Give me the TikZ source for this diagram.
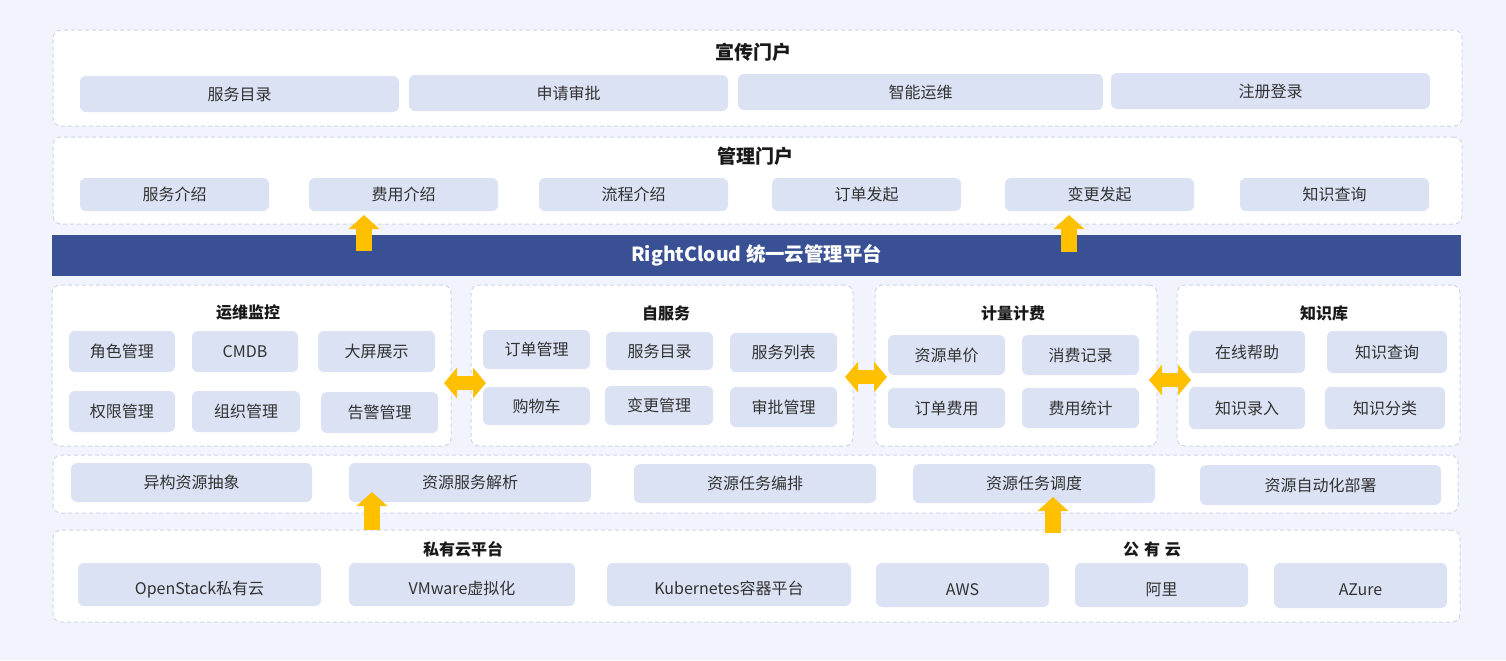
\documentclass[tikz,border=0pt]{standalone}
\usepackage{fontspec}
\setmainfont{Noto Sans CJK SC}
\usetikzlibrary{arrows.meta}
\definecolor{bg}{RGB}{241,244,252}
\definecolor{itemfill}{RGB}{219,226,243}
\definecolor{panelborder}{RGB}{205,213,232}
\definecolor{barblue}{RGB}{57,81,148}
\definecolor{txt}{RGB}{50,50,50}
\definecolor{arrowyellow}{RGB}{255,192,0}
\newcommand{\mkbox}[7]{\node[#1, minimum width={(#5-#3)*0.5pt}, minimum height={(#6-#4)*0.5pt}] (#2) at ({(#3+#5)/2},{(#4+#6)/2}) {#7};}
\begin{document}
\begin{tikzpicture}[x=0.5pt,y=-0.5pt,
  panel/.style={draw=panelborder, dashed, dash pattern=on 2pt off 1.5pt, fill=white, rounded corners=4pt, line width=0.5pt, inner sep=0pt},
  item/.style={fill=itemfill, rounded corners=3pt, text=txt, font=\fontsize{8}{9.5}\selectfont, inner sep=0pt},
  lowitem/.style={item, text height=11.5pt, text depth=1.5pt},
  ptitle/.style={font=\bfseries\fontsize{8}{10}\selectfont, text=black!90, inner sep=0pt},
  btitle/.style={font=\bfseries\fontsize{9.5}{11}\selectfont, text=black!90, inner sep=0pt},
  bar/.style={fill=barblue, text=white, font=\bfseries\fontsize{9.7}{11}\selectfont, inner sep=0pt},
  uparrow/.style={draw=arrowyellow, line width=8pt, -{Triangle[width=15pt,length=7pt]}},
  dblarrow/.style={draw=arrowyellow, line width=7pt, {Triangle[width=15pt,length=6.5pt]}-{Triangle[width=15pt,length=6.5pt]}}
]
\useasboundingbox (0,0) rectangle (1506,660);
\fill[bg] (0,0) rectangle (1506,660);

% Panel 1
\mkbox{panel}{p1}{53}{30}{1462}{126}{}
\node[btitle] (t1) at (753,52) {宣传门户};
\mkbox{item}{p1a}{80}{76}{399}{112}{服务目录}
\mkbox{item}{p1b}{409}{75}{728}{111}{申请审批}
\mkbox{item}{p1c}{738}{74}{1103}{110}{智能运维}
\mkbox{item}{p1d}{1111}{73}{1430}{109}{注册登录}

% Panel 2
\mkbox{panel}{p2}{53}{137}{1462}{224}{}
\node[btitle] (t2) at (755,156) {管理门户};
\mkbox{item}{p2a}{80}{178}{269}{211}{服务介绍}
\mkbox{item}{p2b}{309}{178}{498}{211}{费用介绍}
\mkbox{item}{p2c}{539}{178}{728}{211}{流程介绍}
\mkbox{item}{p2d}{772}{178}{961}{211}{订单发起}
\mkbox{item}{p2e}{1005}{178}{1194}{211}{变更发起}
\mkbox{item}{p2f}{1240}{178}{1429}{211}{知识查询}

% Bar
\mkbox{bar}{bar}{52}{235}{1461}{276}{RightCloud 统一云管理平台}

% Row of four panels
\mkbox{panel}{q1}{52}{285}{451}{446}{}
\node[ptitle] (tq1) at (248,312) {运维监控};
\mkbox{item}{q1a}{69}{331}{175}{372}{角色管理}
\mkbox{item}{q1b}{192}{331}{298}{372}{CMDB}
\mkbox{item}{q1c}{318}{331}{435}{372}{大屏展示}
\mkbox{item}{q1d}{69}{391}{175}{432}{权限管理}
\mkbox{item}{q1e}{192}{391}{300}{432}{组织管理}
\mkbox{item}{q1f}{321}{392}{438}{433}{告警管理}

\mkbox{panel}{q2}{471}{285}{853}{446}{}
\node[ptitle] (tq2) at (666,313) {自服务};
\mkbox{item}{q2a}{483}{330}{590}{369}{订单管理}
\mkbox{item}{q2b}{606}{332}{713}{370}{服务目录}
\mkbox{item}{q2c}{730}{333}{837}{372}{服务列表}
\mkbox{item}{q2d}{483}{387}{590}{425}{购物车}
\mkbox{item}{q2e}{605}{386}{713}{425}{变更管理}
\mkbox{item}{q2f}{730}{387}{837}{427}{审批管理}

\mkbox{panel}{q3}{875}{285}{1157}{446}{}
\node[ptitle] (tq3) at (1013,313) {计量计费};
\mkbox{item}{q3a}{888}{335}{1005}{375}{资源单价}
\mkbox{item}{q3b}{1022}{335}{1139}{375}{消费记录}
\mkbox{item}{q3c}{888}{388}{1005}{428}{订单费用}
\mkbox{item}{q3d}{1022}{388}{1139}{428}{费用统计}

\mkbox{panel}{q4}{1177}{285}{1460}{446}{}
\node[ptitle] (tq4) at (1324,313) {知识库};
\mkbox{item}{q4a}{1189}{331}{1305}{373}{在线帮助}
\mkbox{item}{q4b}{1327}{331}{1447}{373}{知识查询}
\mkbox{item}{q4c}{1189}{387}{1305}{429}{知识录入}
\mkbox{item}{q4d}{1325}{387}{1445}{429}{知识分类}

% Middle panel
\mkbox{panel}{p5}{53}{455}{1458}{513}{}
\mkbox{item}{p5a}{71}{463}{312}{502}{异构资源抽象}
\mkbox{item}{p5b}{349}{463}{591}{502}{资源服务解析}
\mkbox{item}{p5c}{634}{464}{876}{503}{资源任务编排}
\mkbox{item}{p5d}{913}{464}{1155}{503}{资源任务调度}
\mkbox{item}{p5e}{1200}{465}{1441}{505}{资源自动化部署}

% Bottom panel
\mkbox{panel}{p6}{53}{530}{1460}{622}{}
\node[ptitle] (t6a) at (463,549) {私有云平台};
\node[ptitle] (t6b) at (1152,549) {公\hspace{0.3em}有\hspace{0.3em}云};
\mkbox{lowitem}{p6a}{78}{563}{321}{606}{OpenStack私有云}
\mkbox{lowitem}{p6b}{349}{563}{575}{606}{VMware虚拟化}
\mkbox{lowitem}{p6c}{607}{563}{851}{606}{Kubernetes容器平台}
\mkbox{lowitem}{p6d}{876}{563}{1049}{607}{AWS}
\mkbox{lowitem}{p6e}{1075}{563}{1248}{607}{阿里}
\mkbox{lowitem}{p6f}{1274}{563}{1447}{608}{AZure}

% Arrows
\coordinate (u1s) at (364,251); \coordinate (u1e) at (364,215);
\coordinate (u2s) at (1069,252); \coordinate (u2e) at (1069,215);
\coordinate (u3s) at (372,530); \coordinate (u3e) at (372,492);
\coordinate (u4s) at (1053,533); \coordinate (u4e) at (1053,497);
\draw[uparrow] (u1s) -- (u1e);
\draw[uparrow] (u2s) -- (u2e);
\draw[uparrow] (u3s) -- (u3e);
\draw[uparrow] (u4s) -- (u4e);

\coordinate (d1a) at (444,383); \coordinate (d1b) at (486,383);
\coordinate (d2a) at (845,377); \coordinate (d2b) at (887,377);
\coordinate (d3a) at (1149,380); \coordinate (d3b) at (1191,380);
\draw[dblarrow] (d1a) -- (d1b);
\draw[dblarrow] (d2a) -- (d2b);
\draw[dblarrow] (d3a) -- (d3b);
\end{tikzpicture}
\end{document}
